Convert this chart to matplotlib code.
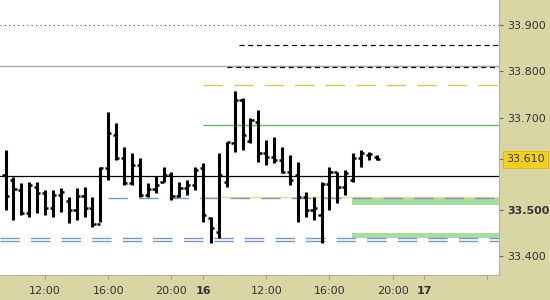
import matplotlib
matplotlib.use("Agg")
import matplotlib.pyplot as plt

# session time in hours: day 15 08:00 -> 0, day 16 08:00 -> 14 (sessions 08:00-22:00)
day15_t = [1.5 + 0.5 * i for i in range(25)]
day16_t = [14 + 0.5 * i for i in range(23)]
times = day15_t + day16_t

opens = [33.576, 33.565, 33.544, 33.494, 33.550, 33.537, 33.505, 33.533, 33.520, 33.500,
         33.530, 33.505, 33.470, 33.591, 33.662, 33.613, 33.559, 33.598, 33.533, 33.546,
         33.561, 33.576, 33.530, 33.548, 33.555,
         33.591, 33.483, 33.453, 33.561, 33.645, 33.738, 33.650, 33.690, 33.624, 33.615,
         33.608, 33.583, 33.576, 33.529, 33.500, 33.490, 33.556, 33.583, 33.550, 33.565,
         33.613, 33.620, 33.615]
highs = [33.630, 33.572, 33.559, 33.561, 33.561, 33.544, 33.544, 33.548, 33.529, 33.548,
         33.550, 33.529, 33.593, 33.712, 33.688, 33.636, 33.624, 33.613, 33.559, 33.574,
         33.593, 33.583, 33.561, 33.565, 33.593,
         33.602, 33.485, 33.624, 33.647, 33.757, 33.742, 33.699, 33.716, 33.652, 33.658,
         33.636, 33.619, 33.604, 33.539, 33.529, 33.561, 33.593, 33.583, 33.587, 33.624,
         33.630, 33.626, 33.619]
lows = [33.500, 33.479, 33.490, 33.485, 33.494, 33.490, 33.485, 33.496, 33.472, 33.479,
        33.485, 33.464, 33.474, 33.565, 33.608, 33.554, 33.554, 33.529, 33.529, 33.537,
        33.561, 33.522, 33.529, 33.533, 33.544,
        33.474, 33.429, 33.440, 33.550, 33.626, 33.630, 33.645, 33.604, 33.598, 33.602,
        33.580, 33.554, 33.474, 33.485, 33.479, 33.429, 33.500, 33.516, 33.533, 33.561,
        33.593, 33.608, 33.608]
closes = [33.530, 33.545, 33.494, 33.555, 33.537, 33.505, 33.533, 33.539, 33.500, 33.530,
          33.505, 33.470, 33.591, 33.667, 33.613, 33.559, 33.598, 33.533, 33.546, 33.555,
          33.576, 33.530, 33.548, 33.555, 33.587,
          33.490, 33.462, 33.576, 33.647, 33.738, 33.662, 33.695, 33.624, 33.615, 33.608,
          33.583, 33.565, 33.529, 33.500, 33.505, 33.556, 33.583, 33.550, 33.580, 33.613,
          33.624, 33.622, 33.610]

last_price = 33.610
y_ticks = [33.400, 33.500, 33.700, 33.800, 33.900]
x_ticks = [4, 8, 12, 14, 18, 22, 26, 28, 32]
x_labels = ["12:00", "16:00", "20:00", "16", "12:00", "16:00", "20:00", "17", ""]

khaki = "#d9d6a6"
fig = plt.figure(figsize=(5.5, 3), dpi=100, facecolor=khaki)
ax = fig.add_axes([0, 25 / 300, 499 / 550, 275 / 300])
ax.set_xlim(1.15, 32.73)
ax.set_ylim(33.360, 33.954)

# level lines
ax.axhline(33.900, color="#b03030", ls=(0, (1, 3)), lw=0.8)
ax.axhline(33.811, color="#a8a8a8", lw=1.0)
ax.hlines(33.857, 16.3, 32.73, color="black", ls=(0, (4, 3)), lw=0.9)
ax.hlines(33.809, 15.5, 32.73, color="black", ls=(0, (4, 3)), lw=0.9)
ax.hlines(33.770, 14, 32.73, color="#e0c850", ls=(0, (14, 8)), lw=1.0)
ax.hlines(33.684, 14, 32.73, color="#60c060", lw=1.0)
ax.axhline(33.574, color="black", lw=0.9)
ax.hlines(33.528, 14, 32.73, color="#f0d890", lw=1.0)
ax.hlines(33.526, 8, 32.73, color="#7898c8", ls=(0, (14, 8)), lw=1.0)
ax.axhline(33.440, color="#7898c8", ls=(0, (14, 8)), lw=1.0)
ax.axhline(33.434, color="#7898c8", ls=(0, (14, 8)), lw=1.0)
ax.fill_between([23.45, 32.73], 33.511, 33.526, color="#a8dca0", lw=0)
ax.fill_between([23.45, 32.73], 33.440, 33.451, color="#a8dca0", lw=0)

# OHLC bars
tk = 0.2
ax.vlines(times, lows, highs, color="black", lw=2.2)
ax.hlines(opens, [t - tk for t in times], times, color="black", lw=1.8)
ax.hlines(closes, times, [t + tk for t in times], color="black", lw=1.8)

ax.set_facecolor("white")
for s in ["top", "left"]:
    ax.spines[s].set_visible(False)
ax.spines["right"].set_color("#b8b590")
ax.spines["bottom"].set_color("#b8b590")

ax.yaxis.tick_right()
ax.set_yticks(y_ticks)
ax.set_yticklabels(["%.3f" % v for v in y_ticks], fontsize=8, color="#333333")
for lab in ax.get_yticklabels():
    if lab.get_text() == "33.500":
        lab.set_fontweight("bold")
ax.tick_params(axis="y", length=3, width=0.8, color="#666666", pad=3)

ax.set_xticks(x_ticks)
ax.set_xticklabels(x_labels, fontsize=8, color="#333333")
for lab in ax.get_xticklabels():
    if lab.get_text() in ("16", "17"):
        lab.set_fontweight("bold")
ax.tick_params(axis="x", length=3, width=0.8, color="#999999", pad=5)

ax.text(1.014, last_price, "%.3f" % last_price, transform=ax.get_yaxis_transform(),
        fontsize=8, color="#333333", va="center", ha="left",
        bbox=dict(boxstyle="square,pad=0.3", fc="#f5d020", ec="#e0b000", lw=0.6))
ax.plot([1.0, 1.008], [last_price, last_price], transform=ax.get_yaxis_transform(),
        color="#666666", lw=0.8, clip_on=False)

fig.savefig("out.png", dpi=100, facecolor=khaki)
